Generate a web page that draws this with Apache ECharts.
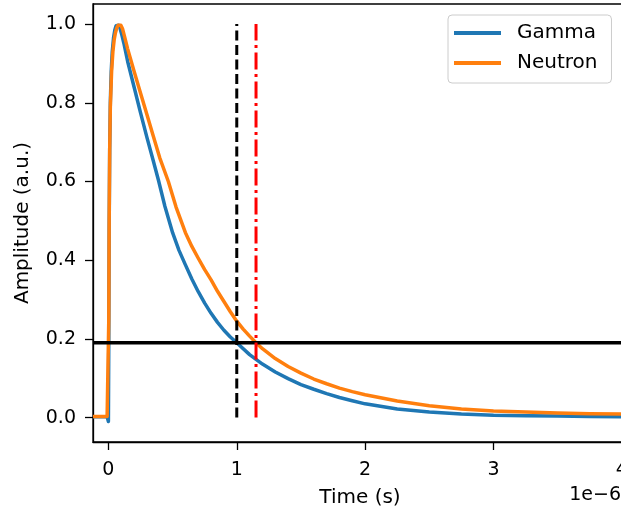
<!DOCTYPE html>
<html>
<head>
<meta charset="utf-8">
<script src="https://cdn.jsdelivr.net/npm/echarts@6/dist/echarts.min.js"></script>
<style>
html,body{margin:0;padding:0;background:#fff;}
#chart{width:621px;height:513px;}
</style>
</head>
<body>
<div id="chart"></div>
<script>
// Time in units of 1e-6 s
const gammaTime = [-0.12, -0.05, -0.01, 0.0, 0.003, 0.006, 0.01, 0.015, 0.022, 0.03, 0.04, 0.05, 0.06, 0.07, 0.08, 0.09, 0.105, 0.12, 0.15, 0.2, 0.25, 0.3, 0.35, 0.39, 0.44, 0.5, 0.55, 0.6, 0.65, 0.7, 0.75, 0.8, 0.85, 0.9, 0.95, 1.0, 1.1, 1.2, 1.3, 1.4, 1.5, 1.6, 1.7, 1.8, 1.9, 2.0, 2.25, 2.5, 2.75, 3.0, 3.25, 3.5, 3.75, 4.04];
const gammaAmp  = [0.002, 0.002, 0.002, -0.01, 0.2, 0.48, 0.68, 0.8, 0.88, 0.93, 0.965, 0.985, 0.996, 1.0, 0.997, 0.99, 0.972, 0.952, 0.905, 0.84, 0.775, 0.712, 0.652, 0.603, 0.537, 0.47, 0.425, 0.388, 0.352, 0.32, 0.291, 0.265, 0.242, 0.222, 0.205, 0.19, 0.16, 0.136, 0.116, 0.099, 0.084, 0.072, 0.061, 0.051, 0.043, 0.035, 0.022, 0.014, 0.009, 0.006, 0.005, 0.004, 0.003, 0.002];

const neutronTime = [-0.12, -0.05, -0.01, 0.0, 0.003, 0.006, 0.01, 0.015, 0.025, 0.035, 0.045, 0.055, 0.065, 0.075, 0.086, 0.097, 0.11, 0.13, 0.15, 0.2, 0.25, 0.3, 0.35, 0.4, 0.467, 0.527, 0.6, 0.65, 0.7, 0.75, 0.8, 0.85, 0.9, 0.95, 1.0, 1.05, 1.1, 1.15, 1.2, 1.3, 1.4, 1.5, 1.6, 1.7, 1.8, 1.9, 2.0, 2.25, 2.5, 2.75, 3.0, 3.25, 3.5, 3.75, 4.04];
const neutronAmp  = [0.003, 0.003, 0.003, 0.002, 0.25, 0.5, 0.68, 0.79, 0.88, 0.93, 0.96, 0.978, 0.99, 0.997, 1.0, 0.997, 0.988, 0.963, 0.937, 0.88, 0.825, 0.77, 0.715, 0.66, 0.60, 0.535, 0.47, 0.435, 0.405, 0.376, 0.35, 0.321, 0.295, 0.269, 0.245, 0.225, 0.207, 0.19, 0.175, 0.15, 0.13, 0.113, 0.098, 0.086, 0.075, 0.066, 0.058, 0.042, 0.03, 0.022, 0.017, 0.014, 0.012, 0.01, 0.009];

const thresholdAmp = 0.19;
const gammaCutTime = 1.0;
const neutronCutTime = 1.15;
const cutLineSpan = [0, 1.0];

const xTicks = [0, 1, 2, 3, 4];
const yTicks = [0.0, 0.2, 0.4, 0.6, 0.8, 1.0];
const xRange = [-0.12, 4.04];
const yRange = [-0.062, 1.051];

const zip = (a, b) => a.map((v, i) => [v, b[i]]);

const FONT = 'DejaVu Sans';
const chart = echarts.init(document.getElementById('chart'), null, {renderer: 'canvas'});
chart.setOption({
  animation: false,
  backgroundColor: '#ffffff',
  textStyle: {fontFamily: FONT},
  grid: {left: 93, right: -6, top: 4, bottom: 71, outerBoundsMode: 'none', containLabel: false,
         show: true, borderColor: '#000', borderWidth: 1.3, backgroundColor: 'transparent'},
  xAxis: {
    type: 'value', min: xRange[0], max: xRange[1],
    name: 'Time (s)', nameLocation: 'middle', nameGap: 46,
    nameTextStyle: {fontFamily: FONT, fontSize: 20, color: '#000'},
    axisLine: {show: true, onZero: false, lineStyle: {color: '#000', width: 1.3}},
    axisTick: {show: true, length: 8, inside: false, customValues: xTicks, lineStyle: {color: '#000', width: 1.3}},
    axisLabel: {customValues: xTicks, margin: 19, fontFamily: FONT, fontSize: 19, color: '#000', formatter: v => String(v)},
    splitLine: {show: false}
  },
  yAxis: {
    type: 'value', min: yRange[0], max: yRange[1],
    name: 'Amplitude (a.u.)', nameLocation: 'middle', nameGap: 60,
    nameTextStyle: {fontFamily: FONT, fontSize: 20, color: '#000'},
    axisLine: {show: true, onZero: false, lineStyle: {color: '#000', width: 1.3}},
    axisTick: {show: true, length: 8, inside: false, customValues: yTicks, lineStyle: {color: '#000', width: 1.3}},
    axisLabel: {customValues: yTicks, margin: 17, fontFamily: FONT, fontSize: 19, color: '#000', formatter: v => v.toFixed(1)},
    splitLine: {show: false}
  },
  legend: {
    orient: 'vertical', left: 448, top: 15,
    padding: [8, 14, 10, 6], itemGap: 10,
    itemWidth: 47, itemHeight: 4, icon: 'rect',
    backgroundColor: 'rgba(255,255,255,0.8)', borderColor: '#cccccc', borderWidth: 1, borderRadius: 4,
    textStyle: {fontFamily: FONT, fontSize: 20, color: '#000', lineHeight: 20, padding: [0, 0, 0, 11]},
    data: ['Gamma', 'Neutron']
  },
  series: [
    {name: 'Gamma', type: 'line', data: zip(gammaTime, gammaAmp), symbol: 'none', smooth: false,
     lineStyle: {color: '#1f77b4', width: 3.5, join: 'round'}, itemStyle: {color: '#1f77b4'}, z: 2},
    {name: 'Neutron', type: 'line', data: zip(neutronTime, neutronAmp), symbol: 'none', smooth: false,
     lineStyle: {color: '#ff7f0e', width: 3.5, join: 'round'}, itemStyle: {color: '#ff7f0e'}, z: 3},
    {name: 'threshold', type: 'line', data: [[xRange[0], thresholdAmp], [xRange[1], thresholdAmp]], symbol: 'none',
     lineStyle: {color: '#000', width: 3.5}, z: 4, silent: true},
    {name: 'gammaCut', type: 'line', data: [[gammaCutTime, cutLineSpan[0]], [gammaCutTime, cutLineSpan[1]]], symbol: 'none',
     lineStyle: {color: '#000', width: 3, type: [10, 4.5]}, z: 5, silent: true},
    {name: 'neutronCut', type: 'line', data: [[neutronCutTime, cutLineSpan[0]], [neutronCutTime, cutLineSpan[1]]], symbol: 'none',
     lineStyle: {color: '#ff0000', width: 3, type: [17, 4.5, 3, 4.5]}, z: 5, silent: true}
  ],
  graphic: [
    {type: 'text', right: 0, top: 486, style: {text: '1e\u22126', fontFamily: FONT, fontSize: 19, fill: '#000', textAlign: 'right'}}
  ]
});
</script>
</body>
</html>
